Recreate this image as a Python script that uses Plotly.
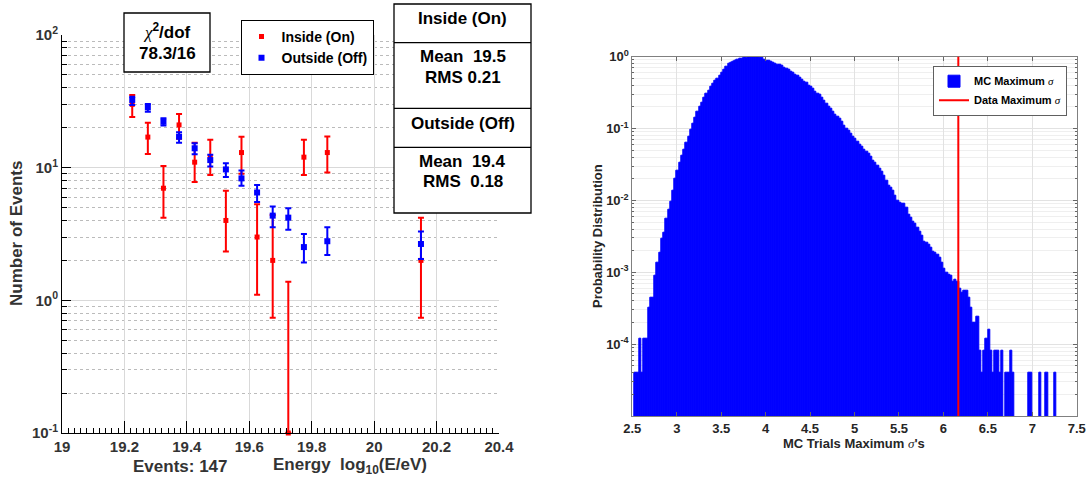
import plotly.graph_objects as go

W, H = 1087, 486
FONT = "Liberation Sans"
SERIF_I = "<span style=\"font-family:'Liberation Serif';font-style:italic;font-weight:normal\">{}</span>"

# --- left panel: energy spectrum, inside (on) vs outside (off) ---
energy_bins = [19.225, 19.275, 19.325, 19.375, 19.425, 19.475, 19.525,
               19.575, 19.625, 19.675, 19.725, 19.775, 19.85, 20.15]
inside_counts = [30, 17, 7, 21, 11, 12, 4, 13, 3, 2, 0.1, 12, 13, 2]
inside_upper = [35.3, 21.8, 10.3, 25.4, 15.4, 16.2, 6.7, 17.1, 5.3, 4.4, 1.38, 16.2, 17.2, 4.2]
inside_lower = [24.1, 12.7, 4.2, 16.5, 7.8, 8.8, 2.33, 9.0, 1.1, 0.74, 0.1, 8.8, 9.2, 0.74]
outside_counts = [32.4, 28.5, 22.2, 17.1, 14.0, 11.4, 9.7, 8.3, 6.5, 4.35, 4.2, 2.52, 2.79, 2.66]
outside_upper = [34.3, 30.2, 23.6, 18.5, 15.3, 12.5, 10.8, 9.5, 7.4, 5.1, 4.95, 3.16, 3.55, 3.3]
outside_lower = [29.7, 26.4, 20.8, 15.4, 12.6, 10.2, 8.5, 7.3, 5.5, 3.55, 3.4, 1.93, 2.2, 2.05]

n_events = 147
chi2_text = "78.3/16"
inside_stats = ("19.5", "0.21")
outside_stats = ("19.4", "0.18")

# --- right panel: MC max-sigma distribution (bins of 0.025 from 2.5) ---
sigma_start, sigma_width = 2.5, 0.025
mc_prob = [
    None, 4e-5, 4e-5, 1.2e-4, 4e-5, 1.2e-4, 1.2e-4, 3.2e-4, 4.4e-4, 4.4e-4,
    9e-4, 1.35e-3, 1.9e-3, 2.9e-3, 3.6e-3, 5.5e-3, 7.5e-3, 9.5e-3, 0.0135, 0.020,
    0.026, 0.033, 0.042, 0.051, 0.063, 0.078, 0.095, 0.117, 0.141, 0.17,
    0.20, 0.23, 0.27, 0.31, 0.34, 0.38, 0.42, 0.46, 0.50, 0.55,
    0.60, 0.66, 0.72, 0.79, 0.83, 0.86, 0.89, 0.91, 0.93, 0.95,
    0.965, 0.977, 0.986, 0.995, 1.0, 0.995, 0.986, 0.973, 0.955, 0.92,
    0.89, 0.87, 0.85, 0.82, 0.80, 0.785, 0.77, 0.74, 0.71, 0.685,
    0.655, 0.625, 0.60, 0.57, 0.54, 0.51, 0.48, 0.45, 0.43, 0.40,
    0.38, 0.355, 0.33, 0.31, 0.295, 0.27, 0.245, 0.224, 0.204, 0.188,
    0.174, 0.158, 0.148, 0.135, 0.123, 0.111, 0.101, 0.092, 0.085, 0.078,
    0.072, 0.066, 0.060, 0.056, 0.051, 0.047, 0.044, 0.040, 0.036, 0.033,
    0.030, 0.0275, 0.025, 0.022, 0.019, 0.0162, 0.0151, 0.0138, 0.0115, 0.0098,
    0.0093, 0.0091, 0.0089, 0.0079, 0.0063, 0.0058, 0.0050, 0.0047, 0.0042, 0.0037,
    0.0032, 0.0027, 0.0026, 0.0024, 0.0022, 0.00195, 0.0019, 0.00174, 0.0016, 0.00135,
    0.00112, 0.00098, 0.00093, 0.00091, 0.00074, 0.00078, 0.00074, 0.0006, 0.00052, 0.00056,
    0.00056, 0.00044, 0.00032, 0.0002, 0.0002, 0.00024, 8e-5, 4e-5, 8e-5, 1.2e-4,
    1.6e-4, 8e-5, 4e-5, 8e-5, 8e-5, 4e-5, 8e-5, None, 4e-5, 4e-5,
    8e-5, 4e-5, None, None, None, None, None, None, 4e-5, 4e-5,
    None, None, None, 4e-5, None, None, 4e-5, None, None, None,
    4e-5, None, None, None, None, None, None, None, None, None,
]
sigma_centers = [round(sigma_start + sigma_width * (i + 0.5), 4) for i in range(len(mc_prob))]
data_max_sigma = 6.168


def px_x(px):
    return px / W


def px_y(py):
    return 1 - py / H


def label(px, py, text, size, color="black", **kw):
    return dict(x=px_x(px), y=px_y(py), xref="paper", yref="paper", text=text,
                showarrow=False, xanchor="center", yanchor="middle",
                font=dict(family=FONT, size=size, weight="bold", color=color), **kw)


def log_minor(lo_exp, hi_exp):
    return [k * 10 ** e for e in range(lo_exp, hi_exp) for k in range(2, 10)]


fig = go.Figure()

fig.add_trace(go.Scatter(
    x=energy_bins, y=inside_counts, mode="markers", name="Inside (On)",
    legendgroup="on", cliponaxis=False,
    marker=dict(symbol="square", size=5, color="red"),
    error_y=dict(type="data", symmetric=False,
                 array=[u - c for u, c in zip(inside_upper, inside_counts)],
                 arrayminus=[c - l for c, l in zip(inside_counts, inside_lower)],
                 color="red", thickness=2, width=3),
))
fig.add_trace(go.Scatter(
    x=energy_bins, y=outside_counts, mode="markers", name="Outside (Off)",
    legendgroup="off",
    marker=dict(symbol="square", size=6, color="blue"),
    error_y=dict(type="data", symmetric=False,
                 array=[u - c for u, c in zip(outside_upper, outside_counts)],
                 arrayminus=[c - l for c, l in zip(outside_counts, outside_lower)],
                 color="blue", thickness=2, width=3),
))

fig.add_trace(go.Bar(
    x=sigma_centers, y=mc_prob, width=sigma_width, xaxis="x2", yaxis="y2",
    name="MC Maximum " + SERIF_I.format("σ"), legend="legend2",
    marker=dict(color="#0000ff", line=dict(color="#0000ff", width=1)),
))

fig.add_shape(type="line", xref="x2", yref="y2 domain", x0=data_max_sigma, x1=data_max_sigma,
              y0=0, y1=1, line=dict(color="red", width=2), showlegend=True,
              name="Data Maximum " + SERIF_I.format("σ"), legend="legend2")

# boxes on left panel
box_line = dict(color="black", width=1.3)
fig.add_shape(type="rect", xref="paper", yref="paper", x0=px_x(124), x1=px_x(210),
              y0=px_y(72), y1=px_y(13), line=box_line, fillcolor="white", layer="above")
fig.add_shape(type="rect", xref="paper", yref="paper", x0=px_x(394), x1=px_x(531),
              y0=px_y(213), y1=px_y(4), line=box_line, fillcolor="white", layer="above")
for yy in (42.7, 108.3, 147.3):
    fig.add_shape(type="line", xref="paper", yref="paper", x0=px_x(394), x1=px_x(531),
                  y0=px_y(yy), y1=px_y(yy), line=box_line, layer="above")

nb = "\u00a0"
annotations = [
    label(167, 31, SERIF_I.format("χ") + "<sup>2</sup>/dof", 17),
    label(167, 53, chi2_text, 17),
    label(462.5, 19, "Inside (On)", 17),
    label(462.5, 57, f"Mean{nb}{nb}{inside_stats[0]}", 17),
    label(462.5, 77, f"RMS{nb}{inside_stats[1]}", 17),
    label(462.5, 124, "Outside (Off)", 17),
    label(462.5, 162, f"Mean{nb}{nb}{outside_stats[0]}", 17),
    label(462.5, 182, f"RMS{nb}{nb}{outside_stats[1]}", 17),
    label(17, 234, "Number of Events", 17, color="#333", textangle=-90),
    label(180, 466, f"Events: {n_events}", 17, color="#333"),
    label(350, 466, f"Energy{nb}{nb}log<sub>10</sub>(E/eV)", 17, color="#333"),
    label(597, 236, "Probability Distribution", 13, color="#262626", textangle=-90),
    label(854, 443, "MC Trials Maximum " + SERIF_I.format("σ") + "'s", 13, color="#262626"),
]

tick_font_l = dict(family=FONT, size=15, weight="bold", color="#333")
tick_font_r = dict(family=FONT, size=13, weight="bold", color="#262626")

fig.update_layout(
    width=W, height=H, margin=dict(l=0, r=0, t=0, b=0, autoexpand=False),
    paper_bgcolor="white", plot_bgcolor="white",
    font=dict(family=FONT, weight="bold"),
    bargap=0, annotations=annotations,
    xaxis=dict(domain=[px_x(62), px_x(499)], range=[19, 20.4], anchor="y", automargin=False,
               tick0=19, dtick=0.2, ticks="inside", ticklen=12, tickcolor="black",
               showline=True, linecolor="black", linewidth=1, zeroline=False,
               showgrid=True, gridcolor="#d9d9d9", gridwidth=1, tickfont=tick_font_l,
               minor=dict(dtick=0.02, ticks="inside", ticklen=5, tickcolor="black", showgrid=False)),
    yaxis=dict(domain=[px_y(433), px_y(35)], type="log", range=[-1, 2], anchor="x", automargin=False,
               tickvals=[0.1, 1, 10, 100],
               ticktext=["10<sup>-1</sup>", "10<sup>0</sup>", "10<sup>1</sup>", "10<sup>2</sup>"],
               ticks="inside", ticklen=9, tickcolor="black",
               showline=True, linecolor="black", linewidth=1, zeroline=False,
               showgrid=True, gridcolor="#d9d9d9", gridwidth=1, tickfont=tick_font_l,
               minor=dict(tickvals=log_minor(-1, 2), ticks="inside", ticklen=5, tickcolor="black",
                          showgrid=True, griddash="dot", gridcolor="#bbbbbb", gridwidth=1)),
    xaxis2=dict(domain=[px_x(632.3), px_x(1076.7)], range=[2.5, 7.5], anchor="y2", automargin=False,
                tick0=2.5, dtick=0.5, ticks="inside", ticklen=4, tickcolor="#666",
                showline=True, linecolor="#808080", linewidth=1, mirror="ticks", zeroline=False,
                showgrid=True, gridcolor="#e2e2e2", tickfont=tick_font_r),
    yaxis2=dict(domain=[px_y(416), px_y(56.7)], type="log", range=[-5, 0], anchor="x2", automargin=False,
                tickvals=[1e-4, 1e-3, 1e-2, 1e-1, 1],
                ticktext=["10<sup>-4</sup>", "10<sup>-3</sup>", "10<sup>-2</sup>",
                          "10<sup>-1</sup>", "10<sup>0</sup>"],
                ticks="inside", ticklen=4, tickcolor="#666",
                showline=True, linecolor="#808080", linewidth=1, mirror="ticks", zeroline=False,
                showgrid=True, gridcolor="#e2e2e2", tickfont=tick_font_r,
                minor=dict(tickvals=log_minor(-5, 0), ticks="inside", ticklen=2, tickcolor="#666",
                           showgrid=True, gridcolor="#efefef")),
    legend=dict(x=px_x(307), y=px_y(20), xanchor="center", yanchor="top",
                bgcolor="white", bordercolor="black", borderwidth=1, itemwidth=30,
                tracegroupgap=0, font=dict(family=FONT, size=14, weight="bold", color="black")),
    legend2=dict(x=px_x(1067), y=px_y(65.7), xanchor="right", yanchor="top",
                 bgcolor="white", bordercolor="#606060", borderwidth=1, itemwidth=30,
                 font=dict(family=FONT, size=11, weight="bold", color="black")),
)

# drop the default page margin so the figure sits at the window's top-left corner
fig.write_html("out.html", config={"displayModeBar": False},
               post_script="document.body.style.margin = '0';")
